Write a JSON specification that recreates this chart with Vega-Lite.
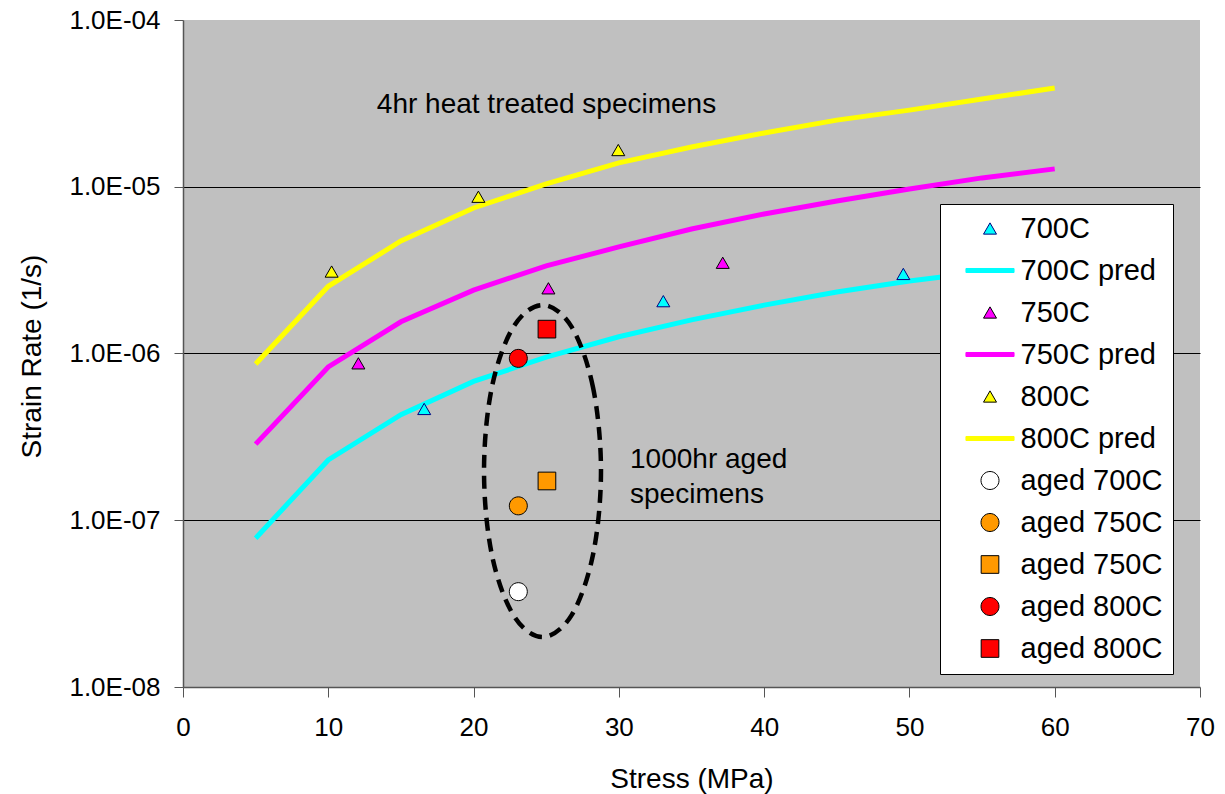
{
  "$schema": "https://vega.github.io/schema/vega-lite/v6.json",
  "width": 1017,
  "height": 667,
  "autosize": {"type": "none"},
  "padding": {"left": 183, "top": 20, "right": 25, "bottom": 107},
  "background": "white",
  "config": {
    "font": "Liberation Sans",
    "view": {"fill": "#C0C0C0", "stroke": null},
    "axis": {
      "labelFont": "Liberation Sans",
      "titleFont": "Liberation Sans",
      "labelColor": "black",
      "titleColor": "black",
      "titleFontWeight": "normal",
      "labelFontSize": 26,
      "titleFontSize": 28,
      "labelFlush": false,
      "labelOverlap": false,
      "tickColor": "#555555",
      "domainColor": "#555555",
      "domainWidth": 1.5
    },
    "legend": {
      "title": null,
      "orient": "none",
      "legendX": 757,
      "legendY": 184,
      "padding": 10,
      "fillColor": "white",
      "strokeColor": "black",
      "symbolSize": 169,
      "symbolOffset": 25.5,
      "labelOffset": 16,
      "rowPadding": 12,
      "labelFont": "Liberation Sans",
      "labelFontSize": 29,
      "labelColor": "black",
      "labelLimit": 300,
      "symbolOpacity": 1,
      "symbolStrokeWidth": 1
    }
  },
  "datasets": {
    "pred": [
      {"series": "700C pred", "stress": 5, "rate": 7.8e-8},
      {"series": "700C pred", "stress": 10, "rate": 2.3e-7},
      {"series": "700C pred", "stress": 15, "rate": 4.3e-7},
      {"series": "700C pred", "stress": 20, "rate": 6.8e-7},
      {"series": "700C pred", "stress": 25, "rate": 9.5e-7},
      {"series": "700C pred", "stress": 30, "rate": 1.26e-6},
      {"series": "700C pred", "stress": 35, "rate": 1.59e-6},
      {"series": "700C pred", "stress": 40, "rate": 1.95e-6},
      {"series": "700C pred", "stress": 45, "rate": 2.34e-6},
      {"series": "700C pred", "stress": 50, "rate": 2.72e-6},
      {"series": "700C pred", "stress": 55, "rate": 3.08e-6},
      {"series": "700C pred", "stress": 60, "rate": 3.45e-6},
      {"series": "750C pred", "stress": 5, "rate": 2.86e-7},
      {"series": "750C pred", "stress": 10, "rate": 8.3e-7},
      {"series": "750C pred", "stress": 15, "rate": 1.55e-6},
      {"series": "750C pred", "stress": 20, "rate": 2.4e-6},
      {"series": "750C pred", "stress": 25, "rate": 3.35e-6},
      {"series": "750C pred", "stress": 30, "rate": 4.36e-6},
      {"series": "750C pred", "stress": 35, "rate": 5.58e-6},
      {"series": "750C pred", "stress": 40, "rate": 6.87e-6},
      {"series": "750C pred", "stress": 45, "rate": 8.22e-6},
      {"series": "750C pred", "stress": 50, "rate": 9.7e-6},
      {"series": "750C pred", "stress": 55, "rate": 1.13e-5},
      {"series": "750C pred", "stress": 60, "rate": 1.28e-5},
      {"series": "800C pred", "stress": 5, "rate": 8.65e-7},
      {"series": "800C pred", "stress": 10, "rate": 2.53e-6},
      {"series": "800C pred", "stress": 15, "rate": 4.73e-6},
      {"series": "800C pred", "stress": 20, "rate": 7.46e-6},
      {"series": "800C pred", "stress": 25, "rate": 1.04e-5},
      {"series": "800C pred", "stress": 30, "rate": 1.39e-5},
      {"series": "800C pred", "stress": 35, "rate": 1.73e-5},
      {"series": "800C pred", "stress": 40, "rate": 2.1e-5},
      {"series": "800C pred", "stress": 45, "rate": 2.51e-5},
      {"series": "800C pred", "stress": 50, "rate": 2.88e-5},
      {"series": "800C pred", "stress": 55, "rate": 3.36e-5},
      {"series": "800C pred", "stress": 60, "rate": 3.91e-5}
    ],
    "measured": [
      {"series": "700C", "stress": 16.6, "rate": 4.65e-7},
      {"series": "700C", "stress": 33.06, "rate": 2.06e-6},
      {"series": "700C", "stress": 49.58, "rate": 3.0e-6},
      {"series": "750C", "stress": 12.07, "rate": 8.73e-7},
      {"series": "750C", "stress": 25.15, "rate": 2.46e-6},
      {"series": "750C", "stress": 37.15, "rate": 3.5e-6},
      {"series": "800C", "stress": 10.23, "rate": 3.1e-6},
      {"series": "800C", "stress": 20.33, "rate": 8.71e-6},
      {"series": "800C", "stress": 29.96, "rate": 1.66e-5}
    ],
    "aged": [
      {"series": "aged 700C", "stress": 23.08, "rate": 3.73e-8},
      {"series": "aged 750C", "stress": 23.08, "rate": 1.22e-7},
      {"series": "aged 750C (sq)", "stress": 25.05, "rate": 1.72e-7},
      {"series": "aged 800C", "stress": 23.08, "rate": 9.35e-7},
      {"series": "aged 800C (sq)", "stress": 25.05, "rate": 1.4e-6}
    ],
    "outline": [
      {"k": 0, "stress": 28.77, "rate": 1.974e-7},
      {"k": 1, "stress": 28.23, "rate": 6.21e-7},
      {"k": 2, "stress": 26.76, "rate": 1.438e-6},
      {"k": 3, "stress": 24.74, "rate": 1.953e-6},
      {"k": 4, "stress": 22.73, "rate": 1.438e-6},
      {"k": 5, "stress": 21.25, "rate": 6.21e-7},
      {"k": 6, "stress": 20.72, "rate": 1.974e-7},
      {"k": 7, "stress": 21.25, "rate": 6.27e-8},
      {"k": 8, "stress": 22.73, "rate": 2.71e-8},
      {"k": 9, "stress": 24.74, "rate": 1.995e-8},
      {"k": 10, "stress": 26.76, "rate": 2.71e-8},
      {"k": 11, "stress": 28.23, "rate": 6.27e-8}
    ]
  },
  "layer": [
    {
      "data": {"name": "pred"},
      "mark": {"type": "line", "strokeWidth": 5},
      "encoding": {
        "x": {
          "field": "stress",
          "type": "quantitative",
          "scale": {"domain": [0, 70], "nice": false, "zero": false},
          "axis": {
            "values": [0, 10, 20, 30, 40, 50, 60, 70],
            "title": "Stress (MPa)",
            "grid": false,
            "labelAngle": 0,
            "labelPadding": 17,
            "tickSize": 10,
            "titleAlign": "center",
            "titleBaseline": "alphabetic",
            "titleY": 100
          }
        },
        "y": {
          "field": "rate",
          "type": "quantitative",
          "scale": {"type": "log", "domain": [1e-8, 0.0001], "nice": false},
          "axis": {
            "values": [1e-8, 1e-7, 1e-6, 1e-5, 0.0001],
            "labelExpr": "replace(format(datum.value, '.1e'), 'e-', 'E-0')",
            "title": "Strain Rate (1/s)",
            "grid": true,
            "gridColor": "black",
            "gridWidth": 1,
            "gridOpacity": {"condition": {"test": "datum.value > 2e-8 && datum.value < 5e-5", "value": 1}, "value": 0},
            "labelPadding": 14,
            "tickSize": 9,
            "titleAngle": -90,
            "titleAlign": "center",
            "titleBaseline": "alphabetic",
            "titleX": -143,
            "titleY": 336
          }
        },
        "stroke": {
          "field": "series",
          "type": "nominal",
          "scale": {
            "domain": ["700C", "700C pred", "750C", "750C pred", "800C", "800C pred", "aged 700C", "aged 750C", "aged 750C (sq)", "aged 800C", "aged 800C (sq)"],
            "range": ["#000080", "#00FFFF", "#000000", "#FF00FF", "#000000", "#FFFF00", "#000000", "#000000", "#000000", "#000000", "#000000"]
          },
          "legend": {"labelExpr": "replace(datum.label, ' (sq)', '')"}
        }
      }
    },
    {
      "data": {"name": "outline"},
      "mark": {"type": "line", "interpolate": "cardinal-closed", "stroke": "black", "strokeWidth": 4.5, "strokeDash": [13, 8]},
      "encoding": {
        "x": {"field": "stress", "type": "quantitative"},
        "y": {"field": "rate", "type": "quantitative"},
        "order": {"field": "k", "type": "quantitative"}
      }
    },
    {
      "data": {"name": "measured"},
      "mark": {"type": "point", "filled": true, "size": 169, "strokeWidth": 1, "opacity": 1},
      "encoding": {
        "x": {"field": "stress", "type": "quantitative"},
        "y": {"field": "rate", "type": "quantitative"},
        "fill": {
          "field": "series",
          "type": "nominal",
          "scale": {
            "domain": ["700C", "700C pred", "750C", "750C pred", "800C", "800C pred", "aged 700C", "aged 750C", "aged 750C (sq)", "aged 800C", "aged 800C (sq)"],
            "range": ["#00FFFF", "#00FFFF", "#FF00FF", "#FF00FF", "#FFFF00", "#FFFF00", "#FFFFFF", "#FF9900", "#FF9900", "#FF0000", "#FF0000"]
          },
          "legend": {"labelExpr": "replace(datum.label, ' (sq)', '')"}
        },
        "stroke": {"field": "series", "type": "nominal", "legend": {"labelExpr": "replace(datum.label, ' (sq)', '')"}},
        "shape": {
          "field": "series",
          "type": "nominal",
          "scale": {
            "domain": ["700C", "700C pred", "750C", "750C pred", "800C", "800C pred", "aged 700C", "aged 750C", "aged 750C (sq)", "aged 800C", "aged 800C (sq)"],
            "range": [
              "triangle-up",
              "M-3.7,-0.31L3.7,-0.31L3.7,0.31L-3.7,0.31Z",
              "triangle-up",
              "M-3.7,-0.31L3.7,-0.31L3.7,0.31L-3.7,0.31Z",
              "triangle-up",
              "M-3.7,-0.31L3.7,-0.31L3.7,0.31L-3.7,0.31Z",
              "M1.385,0A1.385,1.385,0,1,1,-1.385,0A1.385,1.385,0,1,1,1.385,0Z",
              "M1.385,0A1.385,1.385,0,1,1,-1.385,0A1.385,1.385,0,1,1,1.385,0Z",
              "M-1.36,-1.36L1.36,-1.36L1.36,1.36L-1.36,1.36Z",
              "M1.385,0A1.385,1.385,0,1,1,-1.385,0A1.385,1.385,0,1,1,1.385,0Z",
              "M-1.36,-1.36L1.36,-1.36L1.36,1.36L-1.36,1.36Z"
            ]
          },
          "legend": {"labelExpr": "replace(datum.label, ' (sq)', '')"}
        }
      }
    },
    {
      "data": {"name": "aged"},
      "mark": {"type": "point", "filled": true, "size": 169, "strokeWidth": 1, "opacity": 1},
      "encoding": {
        "x": {"field": "stress", "type": "quantitative"},
        "y": {"field": "rate", "type": "quantitative"},
        "fill": {"field": "series", "type": "nominal", "legend": {"labelExpr": "replace(datum.label, ' (sq)', '')"}},
        "stroke": {"field": "series", "type": "nominal", "legend": {"labelExpr": "replace(datum.label, ' (sq)', '')"}},
        "shape": {"field": "series", "type": "nominal", "legend": {"labelExpr": "replace(datum.label, ' (sq)', '')"}}
      }
    },
    {
      "data": {"values": [{"stress": 25.02, "rate": 2.77e-5, "note": "4hr heat treated specimens"}]},
      "mark": {"type": "text", "align": "center", "baseline": "alphabetic", "font": "Liberation Sans", "fontSize": 28, "color": "black"},
      "encoding": {
        "x": {"field": "stress", "type": "quantitative"},
        "y": {"field": "rate", "type": "quantitative"},
        "text": {"field": "note"}
      }
    },
    {
      "data": {"values": [{"stress": 30.77, "rate": 2.05e-7, "note": "1000hr aged\nspecimens"}]},
      "mark": {"type": "text", "align": "left", "baseline": "alphabetic", "lineBreak": "\n", "lineHeight": 35, "font": "Liberation Sans", "fontSize": 28, "color": "black"},
      "encoding": {
        "x": {"field": "stress", "type": "quantitative"},
        "y": {"field": "rate", "type": "quantitative"},
        "text": {"field": "note"}
      }
    }
  ]
}
